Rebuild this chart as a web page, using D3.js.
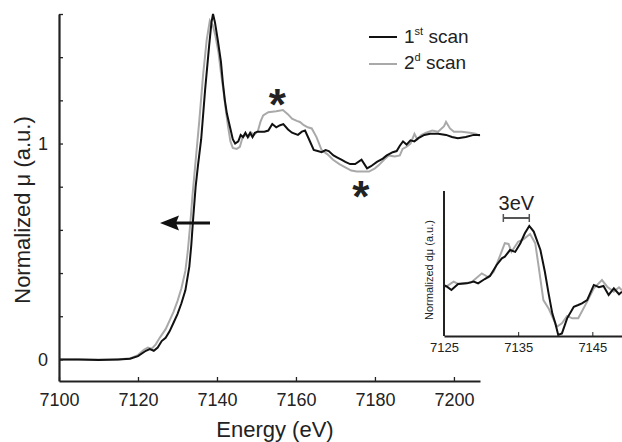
<!DOCTYPE html>
<html>
<head>
<meta charset="utf-8">
<script src="https://cdn.jsdelivr.net/npm/d3@7"></script>
<style>
body{margin:0;background:#fff;}
text{font-family:"Liberation Sans",Arial,sans-serif;fill:#222;}
</style>
</head>
<body>
<svg class="plot" width="622" height="442"></svg>
<script>
// main XANES spectrum, scan 1 (black)
var scan1E=[7100,7105,7110,7115,7118,7120,7122,7123,7124,7125,7126,7127,7128,7129,7130,7131,7132,7133,7133.5,7134,7134.6,7135.2,7136,7137,7138,7138.6,7139,7139.5,7140.2,7141,7141.5,7142,7142.5,7143,7143.5,7144,7144.6,7145.4,7146,7146.6,7147.2,7147.8,7148.4,7149,7149.6,7150.3,7151,7152,7153,7154,7155,7156,7156.8,7158,7159,7160.5,7161.5,7162.3,7163.3,7164.5,7165.5,7166.5,7167.5,7168.3,7169.5,7170.5,7171.5,7172.5,7173.7,7175,7176.6,7178,7179,7180.5,7182,7183,7184.5,7185.5,7186.3,7187.1,7188,7189,7190,7191,7192.5,7194,7196,7198,7199.5,7201,7203,7205,7206.6];
var scan1Mu=[0,0,-0.003,0,0.003,0.015,0.04,0.048,0.04,0.055,0.085,0.1,0.13,0.17,0.21,0.26,0.32,0.43,0.53,0.66,0.8,0.9,1.02,1.25,1.45,1.56,1.6,1.56,1.48,1.38,1.28,1.2,1.14,1.1,1.06,1.02,1.0,1.01,1.04,1.03,1.05,1.03,1.05,1.03,1.05,1.055,1.055,1.055,1.06,1.09,1.075,1.085,1.09,1.065,1.05,1.04,1.055,1.06,1.02,0.97,0.965,0.96,0.97,0.965,0.945,0.935,0.925,0.915,0.905,0.905,0.925,0.885,0.895,0.915,0.93,0.945,0.96,0.965,0.99,1.01,0.995,1.015,1.01,1.025,1.04,1.045,1.045,1.04,1.03,1.025,1.03,1.04,1.04];
// scan 2 (grey)
var scan2E=[7100,7105,7110,7115,7118,7120,7121.5,7122.5,7123.5,7124.5,7125.5,7127,7128,7129,7130,7131,7132,7132.6,7133.2,7133.8,7134.5,7135.5,7136.5,7137.4,7138.2,7138.9,7139.6,7140.4,7141,7141.6,7142.2,7142.8,7143.4,7144,7145,7145.8,7146.5,7147.3,7148,7148.7,7149.4,7150.4,7151,7151.7,7153,7155,7156.7,7158,7159,7160.2,7161,7162,7163,7164,7165.2,7166.5,7168,7169.4,7171,7172.5,7174,7175.4,7177,7178.5,7180,7181,7182.3,7183.5,7185,7186.3,7187,7188,7189,7190,7190.7,7191.8,7193,7194.5,7196,7197.5,7198,7199,7200,7202,7204,7205.5,7206.6];
var scan2Mu=[0,0,0,0,0.005,0.02,0.045,0.055,0.05,0.07,0.1,0.14,0.18,0.22,0.27,0.33,0.41,0.5,0.62,0.76,0.9,1.1,1.32,1.48,1.57,1.55,1.5,1.42,1.33,1.25,1.16,1.08,1.01,0.98,0.975,0.985,1.03,1.04,1.03,1.05,1.04,1.06,1.1,1.13,1.145,1.15,1.155,1.135,1.115,1.105,1.1,1.085,1.075,1.07,1.03,0.97,0.95,0.925,0.905,0.89,0.875,0.87,0.87,0.87,0.885,0.9,0.925,0.945,0.94,0.945,0.975,0.985,1.0,1.045,1.02,1.04,1.05,1.06,1.055,1.08,1.1,1.07,1.055,1.055,1.05,1.045,1.035];
// inset: derivative, arbitrary units
var d1E=[7125,7125.4,7126,7126.9,7128.1,7129,7129.6,7130.5,7131.2,7132.1,7132.8,7133.2,7133.9,7134.6,7135.3,7135.9,7136.5,7137.1,7138,7138.6,7139.1,7139.6,7140,7140.4,7140.9,7141.6,7142.5,7143.1,7143.6,7144.3,7145.2,7145.9,7146.5,7147.2,7147.9,7148.6,7149];
var d1V=[0.35,0.34,0.317,0.359,0.363,0.375,0.363,0.393,0.414,0.49,0.536,0.547,0.593,0.58,0.64,0.708,0.759,0.72,0.593,0.443,0.294,0.156,0.09,0.007,0.018,0.122,0.202,0.214,0.225,0.248,0.352,0.336,0.345,0.283,0.329,0.288,0.306];
var d2E=[7125,7125.4,7126.3,7126.9,7128.7,7130.1,7131,7131.7,7132.6,7133.2,7133.7,7134.1,7135,7135.7,7136.6,7137.3,7137.7,7138.4,7139.1,7139.6,7140.2,7140.9,7141.6,7142.3,7143.1,7144.3,7145.2,7146.3,7147,7147.9,7148.6,7149];
var d2V=[0.34,0.345,0.375,0.359,0.37,0.432,0.405,0.443,0.559,0.64,0.635,0.58,0.65,0.667,0.703,0.64,0.501,0.248,0.19,0.133,0.064,0.087,0.138,0.122,0.122,0.237,0.329,0.386,0.34,0.306,0.336,0.315];
var mainTicksX=[7100,7120,7140,7160,7180,7200];
var mainTicksY=[0,0.2,0.4,0.6,0.8,1,1.2,1.4,1.6];
var insetTicksX=[7125,7135,7145];
var gapBar=[7133,7136.5];

var svg=d3.select("svg.plot");
var x=d3.scaleLinear().domain([7100,7206.6]).range([59,480]);
var y=d3.scaleLinear().domain([-0.1,1.6]).range([381,14]);

var line=d3.line()
           .x(function(d){return x(d[0]);})
           .y(function(d){return y(d[1]);});
svg.append("path")
   .datum(d3.zip(scan2E,scan2Mu))
   .attr("d",line)
   .attr("fill","none")
   .attr("stroke","#a9a9a9")
   .attr("stroke-width",2);
svg.append("path")
   .datum(d3.zip(scan1E,scan1Mu))
   .attr("d",line)
   .attr("fill","none")
   .attr("stroke","#111")
   .attr("stroke-width",2);

var xAxis=d3.axisBottom(x).tickValues(mainTicksX).tickSize(-4).tickSizeOuter(0).tickPadding(12).tickFormat(d3.format("d"));
var gx=svg.append("g").attr("transform","translate(0,381)").call(xAxis);
var yAxis=d3.axisLeft(y).tickValues(mainTicksY).tickSize(-4).tickSizeOuter(0).tickPadding(11)
            .tickFormat(function(d){return (d===0||d===1)?d:"";});
var gy=svg.append("g").attr("transform","translate(59,0)").call(yAxis);
[gx,gy].forEach(function(g){
  g.select(".domain").attr("stroke","#222").attr("stroke-width",2.2);
  g.selectAll(".tick line").attr("stroke","#222").attr("stroke-width",1.3);
  g.selectAll("text").style("font-size","18px").attr("fill","#222");
});

svg.append("text").attr("x",275).attr("y",437).attr("text-anchor","middle")
   .style("font-size","22px").text("Energy (eV)");
svg.append("text").attr("transform","translate(30,210) rotate(-90)").attr("text-anchor","middle")
   .style("font-size","22px").text("Normalized μ (a.u.)");

// legend
var legend=svg.append("g");
legend.append("line").attr("x1",369).attr("x2",397).attr("y1",37).attr("y2",37).attr("stroke","#111").attr("stroke-width",2);
legend.append("line").attr("x1",369).attr("x2",397).attr("y1",64).attr("y2",64).attr("stroke","#a9a9a9").attr("stroke-width",2);
var t1=legend.append("text").attr("x",404).attr("y",43).style("font-size","19px");
t1.append("tspan").text("1");
t1.append("tspan").attr("dy",-8).style("font-size","11px").text("st");
t1.append("tspan").attr("dy",8).text(" scan");
var t2=legend.append("text").attr("x",404).attr("y",69).style("font-size","19px");
t2.append("tspan").text("2");
t2.append("tspan").attr("dy",-8).style("font-size","11px").text("d");
t2.append("tspan").attr("dy",8).text(" scan");

// asterisks and arrow
svg.append("text").attr("x",x(7155.3)).attr("y",120).attr("text-anchor","middle")
   .style("font-size","44px").style("font-weight","bold").text("*");
svg.append("text").attr("x",x(7176.4)).attr("y",212).attr("text-anchor","middle")
   .style("font-size","44px").style("font-weight","bold").text("*");
svg.append("line").attr("x1",210).attr("x2",172).attr("y1",223).attr("y2",223).attr("stroke","#111").attr("stroke-width",3);
svg.append("path").attr("d","M160,223L179,215.5L176,223L179,230.5Z").attr("fill","#111");

// inset
var xi=d3.scaleLinear().domain([7125,7149]).range([444,622]);
var yi=d3.scaleLinear().domain([0,1]).range([336,191]);
var linei=d3.line()
            .x(function(d){return xi(d[0]);})
            .y(function(d){return yi(d[1]);});
svg.append("path").datum(d3.zip(d2E,d2V)).attr("d",linei)
   .attr("fill","none").attr("stroke","#a9a9a9").attr("stroke-width",2);
svg.append("path").datum(d3.zip(d1E,d1V)).attr("d",linei)
   .attr("fill","none").attr("stroke","#111").attr("stroke-width",2);
var xiAxis=d3.axisBottom(xi).tickValues(insetTicksX).tickSize(-4).tickSizeOuter(0).tickPadding(7).tickFormat(d3.format("d"));
var gxi=svg.append("g").attr("transform","translate(0,336)").call(xiAxis);
gxi.select(".domain").attr("stroke","#222").attr("stroke-width",2);
gxi.selectAll(".tick line").attr("stroke","#222").attr("stroke-width",1);
gxi.selectAll("text").style("font-size","13px").attr("fill","#222");
svg.append("line").attr("x1",444).attr("x2",444).attr("y1",yi(0)).attr("y2",yi(1)).attr("stroke","#222").attr("stroke-width",2);
svg.append("text").attr("transform","translate(433,270) rotate(-90)").attr("text-anchor","middle")
   .style("font-size","11px").text("Normalized dμ (a.u.)");

// 3 eV bar
svg.append("line").attr("x1",xi(gapBar[0])).attr("x2",xi(gapBar[1])).attr("y1",218).attr("y2",218).attr("stroke","#555").attr("stroke-width",2);
gapBar.forEach(function(e){
  svg.append("line").attr("x1",xi(e)).attr("x2",xi(e)).attr("y1",214).attr("y2",222).attr("stroke","#555").attr("stroke-width",1.5);
});
svg.append("text").attr("x",xi((gapBar[0]+gapBar[1])/2)).attr("y",210).attr("text-anchor","middle")
   .style("font-size","20px").text("3eV");
</script>
</body>
</html>
